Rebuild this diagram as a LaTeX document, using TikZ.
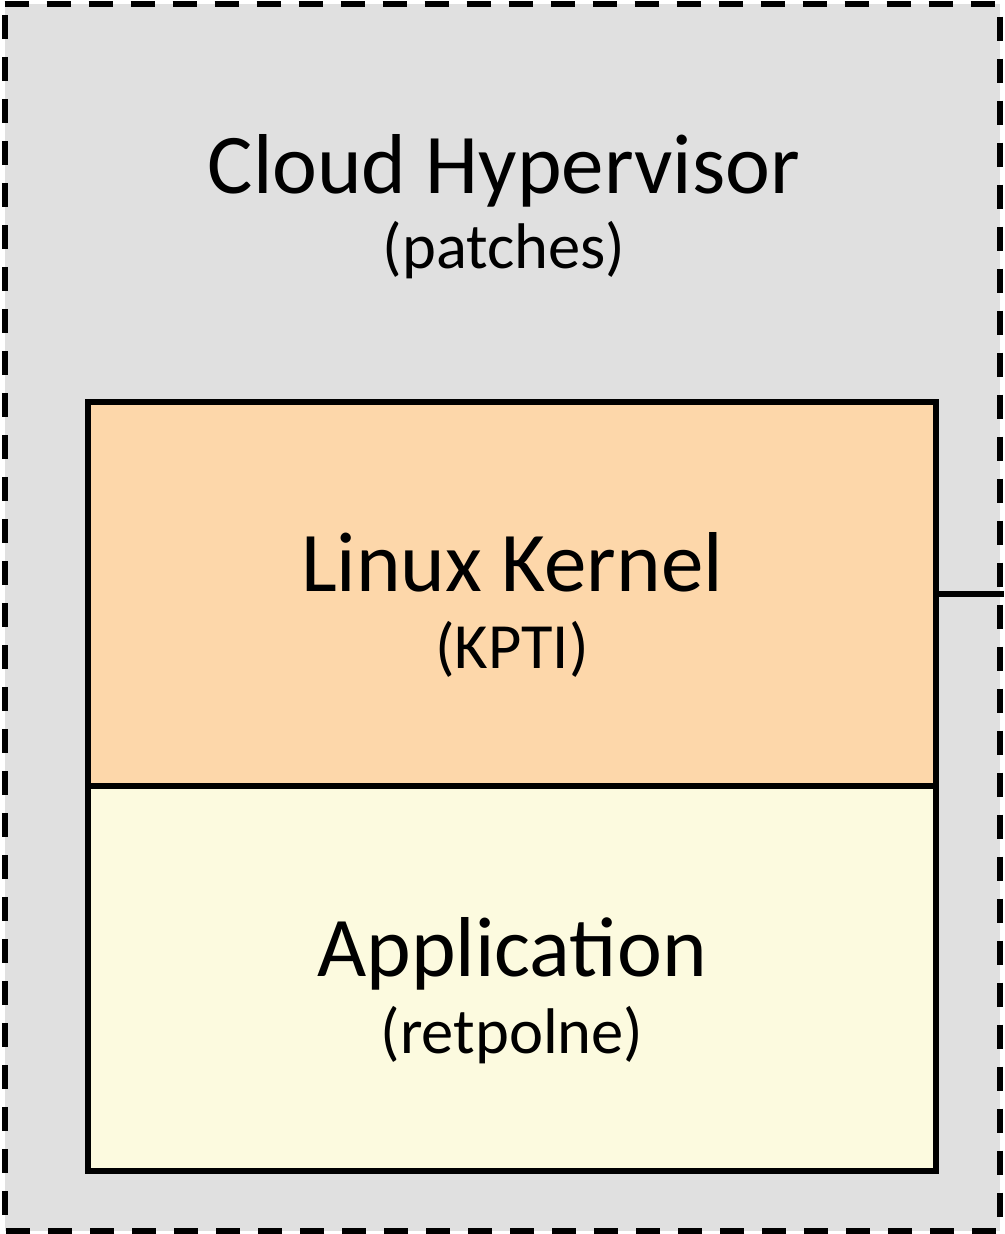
\documentclass[tikz,border=0pt]{standalone}
\usepackage{fontspec}
\setmainfont{Carlito}
\definecolor{hvgray}{HTML}{E0E0E0}
\definecolor{kernpeach}{HTML}{FDD7AA}
\definecolor{appyellow}{HTML}{FCFADF}
\tikzset{
  layerbox/.style={draw=black, line width=6pt, inner sep=0pt, outer sep=0pt, minimum width=848pt},
  hvbox/.style={fill=hvgray, inner sep=0pt, outer sep=0pt},
  hvborder/.style={draw=black, line width=6pt, dash pattern=on 24pt off 18pt},
  bigtext/.style={anchor=base, inner sep=0pt, font=\fontsize{85}{100}\selectfont},
  smalltext/.style={anchor=base, inner sep=0pt, font=\fontsize{64.5}{76}\selectfont},
  link/.style={draw=black, line width=6pt}
}
\begin{document}
\begin{tikzpicture}[x=1pt,y=-1pt]
\useasboundingbox (0,0) rectangle (1004,1234);
\node[hvbox, minimum width=995pt, minimum height=1227.5pt] (hv) at (502,617.25) {};
\draw[hvborder] (hv.north west) -- (hv.north east) -- (hv.south east) -- (hv.south west) -- cycle;
\node[layerbox, fill=kernpeach, minimum height=384pt] (kernel) at (512,594) {};
\node[layerbox, fill=appyellow, minimum height=385pt] (app) at (512,978.5) {};
\node[bigtext] (hvtitle) at (504,193) {Cloud Hypervisor};
\node[smalltext] (hvsub) at (504,268) {(patches)};
\node[bigtext] (kerntitle) at (512,591) {Linux Kernel};
\node[smalltext] (kernsub) at (512,668) {(KPTI)};
\node[bigtext] (apptitle) at (512,976) {Application};
\node[smalltext] (appsub) at (512,1053) {(retpolne)};
\coordinate (rightedge) at (1004,594);
\draw[link] (kernel.east) -- (rightedge);
\end{tikzpicture}
\end{document}
